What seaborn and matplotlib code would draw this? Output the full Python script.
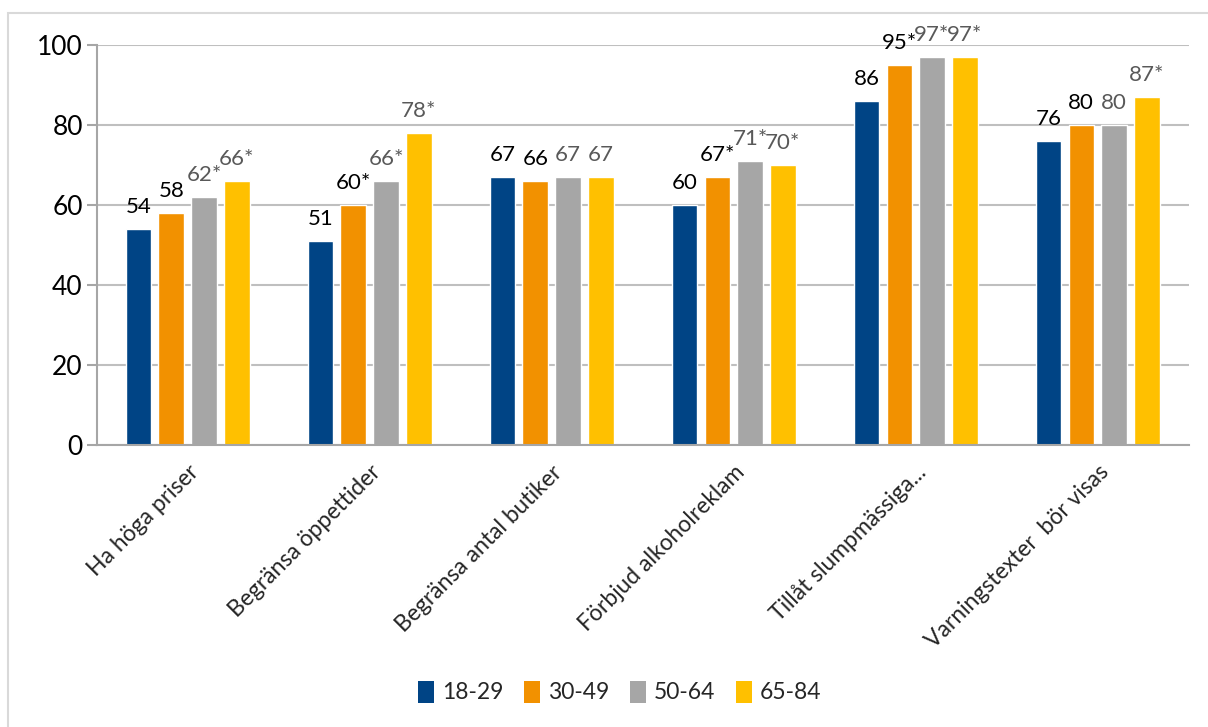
import matplotlib
matplotlib.use("Agg")
import matplotlib.pyplot as plt
from matplotlib.patches import Rectangle, Patch
import seaborn as sns
import pandas as pd

categories = ["Ha höga priser", "Begränsa öppettider", "Begränsa antal butiker",
              "Förbjud alkoholreklam", "Tillåt slumpmässiga...", "Varningstexter  bör visas"]
groups = ["18-29", "30-49", "50-64", "65-84"]
v_18_29 = [54, 51, 67, 60, 86, 76]
v_30_49 = [58, 60, 66, 67, 95, 80]
v_50_64 = [62, 66, 67, 71, 97, 80]
v_65_84 = [66, 78, 67, 70, 97, 87]
labels_18_29 = ["54", "51", "67", "60", "86", "76"]
labels_30_49 = ["58", "60*", "66", "67*", "95*", "80"]
labels_50_64 = ["62*", "66*", "67", "71*", "97*", "80"]
labels_65_84 = ["66*", "78*", "67", "70*", "97*", "87*"]

series = [v_18_29, v_30_49, v_50_64, v_65_84]
series_labels = [labels_18_29, labels_30_49, labels_50_64, labels_65_84]
colors = ["#004485", "#F29100", "#A6A6A6", "#FFC000"]
label_colors = ["#000000", "#000000", "#595959", "#595959"]

rows = []
for g, vals in zip(groups, series):
    for c, v in zip(categories, vals):
        rows.append({"kategori": c, "grupp": g, "andel": v})
df = pd.DataFrame(rows)

sns.set_theme(style="white")
plt.rcParams["font.family"] = ["Lato", "DejaVu Sans"]

fig = plt.figure(figsize=(12.08, 7.27), dpi=100)
ax = fig.add_axes([0.080, 0.388, 0.904, 0.550])

sns.barplot(data=df, x="kategori", y="andel", hue="grupp", order=categories,
            hue_order=groups, palette=colors, width=0.72, gap=0.22,
            saturation=1, legend=False, ax=ax, errorbar=None)

for cont, labs, lc in zip(ax.containers, series_labels, label_colors):
    ax.bar_label(cont, labels=labs, padding=9, fontsize=16, color=lc)

ax.set_ylim(0, 100)
ax.set_yticks([0, 20, 40, 60, 80, 100])
ax.set_xlim(-0.5, len(categories) - 0.5)
ax.yaxis.grid(True, color="#BFBFBF", linewidth=1.5)
ax.set_axisbelow(True)
for side in ["top", "right"]:
    ax.spines[side].set_visible(False)
for side in ["left", "bottom"]:
    ax.spines[side].set_color("#A6A6A6")
    ax.spines[side].set_linewidth(1.5)
ax.tick_params(axis="y", which="both", left=True, length=7, width=1.5,
               color="#A6A6A6", labelsize=19, labelcolor="#000000", pad=3)
ax.tick_params(axis="x", bottom=False, labelsize=16.5, pad=6)
ax.set_xlabel("")
ax.set_ylabel("")
for t in ax.get_xticklabels():
    t.set_rotation(45)
    t.set_ha("right")
    t.set_rotation_mode("anchor")

handles = [Patch(facecolor=c, edgecolor="none") for c in colors]
fig.legend(handles, groups, loc="center", bbox_to_anchor=(0.513, 0.048), ncol=4,
           frameon=False, fontsize=16.5, handlelength=0.7, handleheight=1.1,
           handletextpad=0.35, columnspacing=0.9)

fig.patches.append(Rectangle((8 / 1208, -0.01), 1.1, 1 - 13 / 727 + 0.01,
                             transform=fig.transFigure, fill=False,
                             edgecolor="#D9D9D9", linewidth=1.5))

fig.savefig("out.png", dpi=100)
